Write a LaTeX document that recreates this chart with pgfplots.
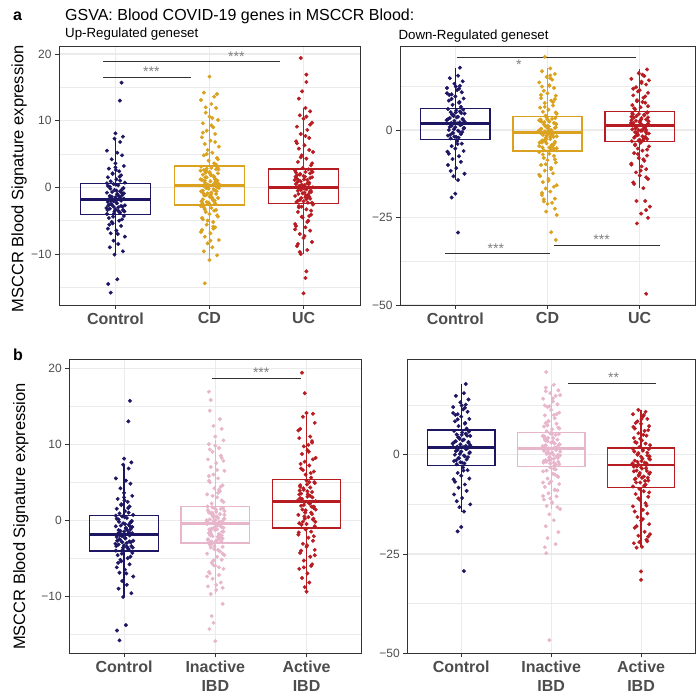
\documentclass[border=0pt]{standalone}
\usepackage{fontspec}
\setmainfont{Liberation Sans}
\usepackage{pgfplots}
\usepackage{pgfplotstable}
\pgfplotsset{compat=1.18}
\usepgfplotslibrary{statistics}

\definecolor{navyc}{HTML}{1D1663}
\definecolor{goldc}{HTML}{DAA21E}
\definecolor{redc}{HTML}{B71C22}
\definecolor{pinkc}{HTML}{E8B6CA}
\definecolor{grey92}{HTML}{EBEBEB}
\definecolor{grey20}{HTML}{333333}
\definecolor{grey30}{HTML}{4D4D4D}
\definecolor{stargrey}{HTML}{7F7F7F}

% jittered points: j = horizontal jitter, y = GSVA score
\pgfplotstableread[row sep=\\]{j y \\
0.065 15.7 \\ 0.047 13.0 \\ 0.00 8.1 \\ 0.08 7.6 \\ -0.01 7.3 \\ 0.05 6.8 \\ -0.09 5.5 \\ 0.02 5.2 \\ 0.07 4.8 \\ -0.04 4.2 \\ 0.00 3.6 \\ 0.09 3.2 \\ -0.07 2.8 \\ 0.04 2.4 \\ -0.03 2.1 \\ 0.06 1.8 \\ -0.08 1.5 \\ 0.01 1.2 \\ -0.05 0.9 \\ 0.10 0.7 \\
-0.02 0.5 \\ 0.03 0.3 \\ -0.06 0.1 \\ 0.08 -0.2 \\ -0.01 -0.4 \\ 0.05 -0.6 \\ -0.09 -0.8 \\ 0.02 -1.0 \\ 0.07 -1.2 \\ -0.04 -1.4 \\ 0.00 -1.5 \\ 0.09 -1.7 \\ -0.07 -1.8 \\ 0.04 -1.8 \\ -0.03 -1.9 \\ 0.06 -2.0 \\ -0.08 -2.2 \\ 0.01 -2.3 \\ -0.05 -2.5 \\ 0.10 -2.7 \\ -0.02 -2.9 \\ 0.03 -3.0 \\ -0.06 -3.2 \\ 0.08 -3.4 \\ -0.01 -3.6 \\ 0.05 -3.8 \\ -0.09 -4.0 \\ 0.02 -1.1 \\ 0.07 -0.3 \\ -0.04 -2.6 \\ 0.00 -3.3 \\
0.01 -0.5 \\ -0.05 -1.6 \\ 0.06 -2.8 \\ -0.08 0.2 \\ 0.04 -3.7 \\ -0.02 -2.1 \\ 0.09 -0.9 \\ -0.06 -1.3 \\ 0.03 -3.5 \\ -0.09 0.6 \\ 0.05 1.0 \\ -0.03 2.0 \\ 0.00 3.0 \\
0.09 -4.3 \\ -0.07 -4.6 \\ 0.04 -5.0 \\ -0.03 -5.4 \\ 0.06 -5.8 \\ -0.08 -6.2 \\ 0.01 -6.5 \\ -0.05 -6.9 \\ 0.10 -7.4 \\ -0.02 -8.0 \\ 0.03 -8.5 \\ -0.06 -9.0 \\ 0.08 -9.6 \\ -0.01 -10.1 \\ 0.07 -4.8 \\ -0.04 -5.2 \\ 0.02 -13.8 \\ -0.077 -14.5 \\ -0.05 -15.8 \\
0.085 -0.1 \\ -0.035 -0.7 \\ 0.015 -2.4 \\ -0.095 -3.1 \\ 0.055 -1.6 \\ -0.015 -3.9 \\ 0.075 -2.9 \\ -0.055 -0.2 \\ 0.035 -1.3 \\ -0.075 -2.7 \\ 0.095 -3.6 \\ 0.005 0.4 \\ -0.045 -2.0 \\ 0.065 -0.8 \\ -0.025 -4.4 \\ 0.045 1.6 \\ -0.065 -5.6 \\ 0.025 -7.0 \\ -0.085 -3.4 \\ 0.005 2.6 \\
}\ctrlup

\pgfplotstableread[row sep=\\]{j y \\
0.00 16.6 \\ -0.06 14.2 \\ 0.08 14.0 \\ 0.05 13.6 \\ -0.09 13.1 \\ 0.02 12.5 \\ 0.07 11.9 \\ -0.04 11.2 \\ 0.00 10.6 \\ 0.09 10.1 \\ -0.07 9.6 \\ 0.04 9.0 \\ -0.03 8.5 \\ 0.06 8.0 \\ -0.08 7.5 \\ 0.01 7.0 \\ -0.05 6.5 \\ 0.10 6.1 \\ -0.02 5.6 \\ 0.03 5.2 \\ -0.06 4.8 \\ 0.08 4.4 \\ -0.01 4.0 \\ 0.05 3.6 \\
-0.09 3.1 \\ 0.02 2.9 \\ 0.07 2.7 \\ -0.04 2.5 \\ 0.00 2.3 \\ 0.09 2.1 \\ -0.07 1.9 \\ 0.04 1.7 \\ -0.03 1.5 \\ 0.06 1.3 \\ -0.08 1.1 \\ 0.01 0.9 \\ -0.05 0.7 \\ 0.10 0.5 \\ -0.02 0.4 \\ 0.03 0.3 \\ -0.06 0.2 \\ 0.08 0.0 \\ -0.01 -0.2 \\ 0.05 -0.4 \\ -0.09 -0.6 \\ 0.02 -0.8 \\ 0.07 -1.0 \\ -0.04 -1.2 \\ 0.00 -1.4 \\ 0.09 -1.6 \\ -0.07 -1.8 \\ 0.04 -2.0 \\ -0.03 -2.2 \\ 0.06 -2.4 \\ -0.08 -2.6 \\ 0.01 2.0 \\ -0.05 1.0 \\ 0.10 -0.1 \\ -0.02 -0.9 \\ 0.03 -1.7 \\ -0.06 2.6 \\ 0.08 0.6 \\ -0.01 -2.3 \\ 0.05 1.6 \\ -0.03 2.8 \\ 0.06 1.2 \\ -0.07 -0.5 \\ 0.02 -1.5 \\ 0.09 0.1 \\ -0.04 2.2 \\
-0.09 -2.8 \\ 0.02 -3.1 \\ 0.07 -3.4 \\ -0.04 -3.7 \\ 0.00 -4.0 \\ 0.09 -4.4 \\ -0.07 -4.8 \\ 0.04 -5.2 \\ -0.03 -5.6 \\ 0.06 -6.0 \\ -0.08 -6.4 \\ 0.01 -6.9 \\ -0.05 -7.4 \\ 0.10 -7.9 \\ -0.02 -8.4 \\ 0.03 -9.0 \\ -0.06 -9.6 \\ 0.08 -10.2 \\ 0.00 -10.9 \\ -0.05 -14.4 \\ 0.05 -3.5 \\ -0.08 -4.6 \\ 0.04 -6.2 \\
0.085 3.0 \\ -0.035 2.4 \\ 0.015 1.8 \\ -0.095 1.2 \\ 0.055 0.6 \\ -0.015 0.0 \\ 0.075 -0.6 \\ -0.055 -1.2 \\ 0.035 -1.8 \\ -0.075 -2.4 \\ 0.095 2.7 \\ 0.005 2.1 \\ -0.045 1.5 \\ 0.065 0.9 \\ -0.025 0.3 \\ 0.045 -0.3 \\ -0.065 -0.9 \\ 0.025 -1.5 \\ -0.085 -2.1 \\ 0.005 -2.6 \\ 0.085 1.0 \\ -0.035 -0.1 \\ 0.015 -1.1 \\ -0.095 2.5 \\ 0.055 -2.0 \\ 0.09 4.2 \\ -0.03 5.0 \\ 0.06 6.8 \\ -0.07 8.2 \\ 0.02 9.3 \\ -0.05 -3.3 \\ 0.08 -4.2 \\ -0.02 -5.0 \\ 0.04 -5.9 \\ -0.09 -6.7 \\ 0.01 -8.0 \\ 0.07 3.4 \\ -0.06 -3.0 \\ 0.03 10.4 \\ -0.04 12.0 \\
}\cdup

\pgfplotstableread[row sep=\\]{j y \\
-0.03 19.4 \\ 0.03 16.9 \\ 0.03 15.8 \\ -0.015 14.4 \\ -0.05 13.3 \\ 0.02 11.9 \\ 0.07 11.4 \\ -0.04 10.8 \\ 0.00 10.3 \\ 0.09 9.7 \\ -0.07 9.1 \\ 0.04 8.6 \\ -0.03 8.0 \\ 0.06 7.4 \\ -0.08 6.9 \\ 0.01 6.3 \\ -0.05 5.8 \\ 0.10 5.3 \\ -0.02 4.8 \\ 0.03 4.3 \\ -0.06 3.8 \\ 0.08 3.3 \\ -0.01 2.9 \\
0.05 2.7 \\ -0.09 2.5 \\ 0.02 2.3 \\ 0.07 2.1 \\ -0.04 1.9 \\ 0.00 1.7 \\ 0.09 1.5 \\ -0.07 1.3 \\ 0.04 1.1 \\ -0.03 0.9 \\ 0.06 0.7 \\ -0.08 0.5 \\ 0.01 0.3 \\ -0.05 0.1 \\ 0.10 0.0 \\ -0.02 -0.1 \\ 0.03 -0.3 \\ -0.06 -0.5 \\ 0.08 -0.7 \\ -0.01 -0.9 \\ 0.05 -1.1 \\ -0.09 -1.3 \\ 0.02 -1.5 \\ 0.07 -1.7 \\ -0.04 -1.9 \\ 0.00 -2.1 \\ 0.09 -2.3 \\ -0.07 1.8 \\ 0.04 0.6 \\ -0.03 -0.4 \\ 0.06 -1.4 \\ -0.08 2.2 \\ 0.01 -0.8 \\ -0.05 1.0 \\ 0.03 -1.8 \\ -0.02 0.4 \\ 0.07 1.4 \\ -0.06 -2.0 \\
0.10 -2.6 \\ -0.02 -2.9 \\ 0.03 -3.3 \\ -0.06 -3.7 \\ 0.08 -4.1 \\ -0.01 -4.5 \\ 0.05 -5.0 \\ -0.09 -5.5 \\ 0.02 -6.0 \\ 0.07 -6.5 \\ -0.04 -7.0 \\ 0.00 -7.6 \\ 0.09 -8.2 \\ -0.07 -8.8 \\ 0.04 -9.4 \\ -0.03 -10.0 \\ 0.03 -12.6 \\ 0.02 -13.6 \\ 0.00 -15.9 \\ -0.05 -3.0 \\ 0.06 -4.3 \\ -0.08 -5.8 \\
0.085 2.6 \\ -0.035 2.0 \\ 0.015 1.6 \\ -0.095 1.1 \\ 0.055 0.5 \\ -0.015 0.0 \\ 0.075 -0.5 \\ -0.055 -1.0 \\ 0.035 -1.5 \\ -0.075 -2.2 \\ 0.095 2.3 \\ 0.005 1.2 \\ -0.045 0.2 \\ 0.065 -0.7 \\ -0.025 -1.6 \\ 0.045 -2.3 \\ -0.065 0.8 \\ 0.025 -1.2 \\ -0.085 1.6 \\ 0.005 -0.2 \\ 0.09 3.6 \\ -0.03 4.5 \\ 0.06 5.6 \\ -0.07 6.6 \\ 0.02 7.7 \\ -0.05 -2.8 \\ 0.08 -3.5 \\ -0.02 -4.4 \\ 0.04 -5.2 \\ -0.09 -6.3 \\ 0.01 -7.3 \\ 0.07 9.4 \\ -0.06 -8.5 \\ 0.03 10.6 \\ -0.04 -9.7 \\
}\ucup

\pgfplotstableread[row sep=\\]{j y \\
0.05 17.8 \\ 0.03 15.5 \\ -0.06 14.8 \\ 0.08 13.9 \\ -0.01 13.2 \\ 0.05 12.6 \\ -0.09 12.0 \\ 0.02 11.4 \\ 0.07 10.8 \\ -0.04 10.2 \\ 0.00 9.6 \\ 0.09 9.0 \\ -0.07 8.4 \\ 0.04 7.8 \\ -0.03 7.2 \\ 0.06 6.6 \\
-0.08 6.0 \\ 0.01 5.6 \\ -0.05 5.1 \\ 0.10 4.7 \\ -0.02 4.2 \\ 0.03 3.8 \\ -0.06 3.4 \\ 0.08 3.0 \\ -0.01 2.6 \\ 0.05 2.2 \\ -0.09 1.9 \\ 0.02 1.9 \\ 0.07 1.6 \\ -0.04 1.2 \\ 0.00 0.8 \\ 0.09 0.4 \\ -0.07 0.0 \\ 0.04 -0.4 \\ -0.03 -0.8 \\ 0.06 -1.2 \\ -0.08 -1.6 \\ 0.01 -2.0 \\ -0.05 -2.4 \\ 0.10 2.4 \\ -0.02 4.0 \\ 0.03 -0.2 \\ -0.06 0.9 \\ 0.08 3.2 \\ -0.01 -1.9 \\ 0.05 5.3 \\ -0.09 10.5 \\ 0.04 11.8 \\ -0.04 8.9 \\
0.02 -3.2 \\ 0.07 -3.9 \\ -0.04 -4.6 \\ 0.00 -5.3 \\ 0.09 -6.0 \\ -0.07 -6.8 \\ 0.04 -7.5 \\ -0.03 -8.3 \\ 0.06 -9.1 \\ -0.08 -10.0 \\ 0.01 -10.9 \\ -0.05 -11.7 \\ 0.10 -12.5 \\ -0.02 -13.2 \\ 0.03 -14.3 \\ 0.00 -18.2 \\ -0.04 -19.3 \\ 0.03 -29.3 \\
0.085 5.8 \\ -0.035 4.4 \\ 0.015 3.6 \\ -0.095 2.8 \\ 0.055 1.4 \\ -0.015 0.2 \\ 0.075 -0.6 \\ -0.055 -1.4 \\ 0.035 -2.2 \\ -0.075 3.2 \\ 0.095 0.6 \\ 0.005 5.0 \\ -0.045 2.0 \\ 0.065 4.8 \\ -0.025 -0.9 \\ 0.045 8.0 \\ -0.065 10.0 \\ 0.025 -4.0 \\ -0.085 -6.2 \\ 0.005 12.4 \\
}\ctrldn

\pgfplotstableread[row sep=\\]{j y \\
-0.03 20.9 \\ 0.03 17.6 \\ -0.06 16.8 \\ 0.08 16.0 \\ -0.01 15.2 \\ 0.05 14.4 \\ -0.09 13.6 \\ 0.02 12.8 \\ 0.07 12.0 \\ -0.04 11.2 \\ 0.00 10.5 \\ 0.09 9.8 \\ -0.07 9.1 \\ 0.04 8.4 \\ -0.03 7.7 \\ 0.06 7.0 \\ -0.08 6.4 \\ 0.01 5.8 \\ -0.05 5.2 \\ 0.10 4.6 \\ -0.02 4.1 \\ 0.03 15.6 \\ -0.06 12.4 \\ 0.08 8.8 \\
-0.01 3.6 \\ 0.05 3.2 \\ -0.09 2.8 \\ 0.02 2.4 \\ 0.07 2.0 \\ -0.04 1.6 \\ 0.00 1.2 \\ 0.09 0.8 \\ -0.07 0.4 \\ 0.04 0.0 \\ -0.03 -0.4 \\ 0.06 -0.7 \\ -0.08 -0.8 \\ 0.01 -1.0 \\ -0.05 -1.4 \\ 0.10 -1.8 \\ -0.02 -2.2 \\ 0.03 -2.6 \\ -0.06 -3.0 \\ 0.08 -3.4 \\ -0.01 -3.8 \\ 0.05 -4.2 \\ -0.09 -4.6 \\ 0.02 -5.0 \\ 0.07 -5.4 \\ -0.04 -5.8 \\ 0.00 3.0 \\ 0.09 1.8 \\ -0.07 0.2 \\ 0.04 -1.2 \\ -0.03 -2.8 \\ 0.06 -4.4 \\ -0.08 2.6 \\ 0.01 -0.2 \\ -0.05 -3.2 \\ 0.10 -5.2 \\ -0.02 1.0 \\ 0.03 -2.0 \\ -0.06 -3.6 \\ 0.08 0.6 \\ -0.01 -1.6 \\ 0.05 -4.8 \\
-0.09 -6.3 \\ 0.02 -6.8 \\ 0.07 -7.4 \\ -0.04 -8.0 \\ 0.00 -8.6 \\ 0.09 -9.3 \\ -0.07 -10.0 \\ 0.04 -10.8 \\ -0.03 -11.6 \\ 0.06 -12.4 \\ -0.08 -13.2 \\ 0.01 -14.0 \\ -0.05 -14.9 \\ 0.10 -15.8 \\ -0.02 -16.7 \\ 0.03 -17.6 \\ -0.06 -18.6 \\ 0.08 -19.6 \\ -0.04 -20.4 \\ 0.00 -21.1 \\ 0.05 -20.8 \\ -0.015 -23.3 \\ 0.08 -22.5 \\ 0.10 -24.3 \\ 0.04 -29.2 \\ 0.09 -31.4 \\
0.085 3.4 \\ -0.035 2.2 \\ 0.015 1.0 \\ -0.095 -0.2 \\ 0.055 -1.4 \\ -0.015 -2.6 \\ 0.075 -3.8 \\ -0.055 -5.0 \\ 0.035 -5.6 \\ -0.075 3.0 \\ 0.095 1.6 \\ 0.005 0.4 \\ -0.045 -0.8 \\ 0.065 -2.0 \\ -0.025 -3.2 \\ 0.045 -4.4 \\ -0.065 2.4 \\ 0.025 -1.0 \\ -0.085 -3.6 \\ 0.005 -0.5 \\ 0.09 5.0 \\ -0.03 6.6 \\ 0.06 8.0 \\ -0.07 10.0 \\ 0.02 12.6 \\ -0.05 -7.0 \\ 0.08 -8.4 \\ -0.02 -9.8 \\ 0.04 -11.2 \\ -0.09 -12.8 \\ 0.01 -14.5 \\ 0.07 -16.2 \\ -0.06 -18.0 \\ 0.03 14.8 \\ -0.04 -19.8 \\
}\cddn

\pgfplotstableread[row sep=\\]{j y \\
0.08 17.3 \\ -0.01 16.2 \\ 0.05 15.4 \\ -0.09 14.6 \\ 0.02 13.8 \\ 0.07 13.0 \\ -0.04 12.2 \\ 0.00 11.4 \\ 0.09 10.6 \\ -0.07 9.9 \\ 0.04 9.2 \\ -0.03 8.5 \\ 0.06 7.8 \\ -0.08 7.1 \\ 0.01 6.5 \\ -0.05 5.9 \\ 0.10 14.2 \\ -0.02 11.0 \\ 0.03 8.0 \\ -0.06 6.2 \\
0.08 5.0 \\ -0.01 4.6 \\ 0.05 4.2 \\ -0.09 3.8 \\ 0.02 3.4 \\ 0.07 3.0 \\ -0.04 2.6 \\ 0.00 2.2 \\ 0.09 1.8 \\ -0.07 1.4 \\ 0.04 1.2 \\ -0.03 1.0 \\ 0.06 0.6 \\ -0.08 0.2 \\ 0.01 -0.2 \\ -0.05 -0.6 \\ 0.10 -1.0 \\ -0.02 -1.4 \\ 0.03 -1.8 \\ -0.06 -2.2 \\ 0.08 -2.6 \\ -0.01 -3.0 \\ 0.05 4.4 \\ -0.09 2.8 \\ 0.02 1.6 \\ 0.07 0.0 \\ -0.04 -1.6 \\ 0.00 -2.8 \\ 0.09 3.6 \\ -0.07 2.0 \\ 0.04 0.4 \\ -0.03 -0.8 \\ 0.06 -2.0 \\ -0.08 4.8 \\
0.01 -3.6 \\ -0.05 -4.1 \\ 0.10 -4.7 \\ -0.02 -5.3 \\ 0.03 -5.9 \\ -0.06 -6.6 \\ 0.08 -7.3 \\ -0.01 -8.0 \\ 0.05 -8.8 \\ -0.09 -9.6 \\ 0.02 -10.4 \\ 0.07 -11.2 \\ -0.04 -12.1 \\ 0.00 -13.0 \\ 0.09 -14.0 \\ -0.07 -15.0 \\ 0.04 -16.6 \\ -0.035 -20.3 \\ 0.06 -20.3 \\ 0.11 -21.9 \\ 0.07 -22.9 \\ 0.016 -23.9 \\ 0.09 -25.1 \\ -0.03 -26.7 \\ 0.07 -46.8 \\
0.085 5.0 \\ -0.035 4.0 \\ 0.015 3.0 \\ -0.095 2.0 \\ 0.055 1.0 \\ -0.015 0.0 \\ 0.075 -1.0 \\ -0.055 -2.0 \\ 0.035 -3.0 \\ -0.075 4.5 \\ 0.095 2.5 \\ 0.005 1.5 \\ -0.045 0.5 \\ 0.065 -0.5 \\ -0.025 -1.5 \\ 0.045 -2.5 \\ -0.065 3.5 \\ 0.025 -0.2 \\ -0.085 -3.2 \\ 0.005 2.6 \\ 0.09 6.8 \\ -0.03 8.2 \\ 0.06 9.6 \\ -0.07 11.8 \\ 0.02 13.4 \\ -0.05 -4.4 \\ 0.08 -5.6 \\ -0.02 -6.9 \\ 0.04 -8.4 \\ -0.09 -9.9 \\ 0.01 -11.6 \\ 0.07 -13.5 \\ -0.06 -15.4 \\ 0.03 15.8 \\
}\ucdn

\pgfplotstableread[row sep=\\]{j y \\
-0.07 16.9 \\ -0.05 15.8 \\ -0.06 14.4 \\ 0.05 13.3 \\ -0.02 12.4 \\ 0.07 12.0 \\ 0.00 11.0 \\ 0.09 10.5 \\ -0.07 10.0 \\ 0.04 9.5 \\ -0.03 9.0 \\ 0.06 8.5 \\ -0.08 8.0 \\ 0.01 7.5 \\ -0.05 7.0 \\ 0.10 6.5 \\ -0.02 6.0 \\ 0.03 5.5 \\ -0.06 5.0 \\ 0.08 4.6 \\ -0.01 4.2 \\ 0.05 3.8 \\ -0.09 3.4 \\ 0.02 3.0 \\ 0.07 2.6 \\ -0.04 2.2 \\ 0.00 9.8 \\ 0.09 7.8 \\ -0.07 5.8 \\ 0.04 4.0 \\
-0.03 1.7 \\ 0.06 1.5 \\ -0.08 1.3 \\ 0.01 1.1 \\ -0.05 0.9 \\ 0.10 0.7 \\ -0.02 0.5 \\ 0.03 0.3 \\ -0.06 0.1 \\ 0.08 -0.1 \\ -0.01 -0.3 \\ 0.05 -0.4 \\ -0.09 -0.5 \\ 0.02 -0.7 \\ 0.07 -0.9 \\ -0.04 -1.1 \\ 0.00 -1.3 \\ 0.09 -1.5 \\ -0.07 -1.7 \\ 0.04 -1.9 \\ -0.03 -2.1 \\ 0.06 -2.3 \\ -0.08 -2.5 \\ 0.01 -2.7 \\ -0.05 -2.9 \\ 0.10 1.2 \\ -0.02 0.4 \\ 0.03 -0.6 \\ -0.06 -1.6 \\ 0.08 -2.4 \\ -0.01 1.6 \\ 0.05 0.8 \\ -0.09 -0.2 \\ 0.02 -1.2 \\ 0.07 -2.0 \\ -0.04 -2.8 \\ 0.00 0.0 \\ 0.09 -1.0 \\ -0.07 1.0 \\ 0.04 -1.8 \\ -0.03 0.6 \\ 0.06 -0.8 \\ -0.08 -2.6 \\ 0.01 1.4 \\ -0.05 -1.4 \\ 0.10 0.2 \\ -0.02 -0.1 \\ 0.03 -2.2 \\
-0.06 -3.2 \\ 0.08 -3.5 \\ -0.01 -3.8 \\ 0.05 -4.1 \\ -0.09 -4.4 \\ 0.02 -4.8 \\ 0.07 -5.2 \\ -0.04 -5.6 \\ 0.00 -6.0 \\ 0.09 -6.4 \\ -0.07 -6.8 \\ 0.04 -7.2 \\ -0.03 -7.7 \\ 0.06 -8.2 \\ -0.08 -8.7 \\ 0.01 -9.2 \\ -0.05 -9.7 \\ 0.08 -11.0 \\ -0.04 -12.6 \\ -0.02 -13.5 \\ -0.065 -14.3 \\ 0.00 -15.9 \\ 0.10 -4.6 \\ -0.02 -5.9 \\ 0.03 -3.9 \\ -0.06 -7.0 \\ 0.08 -8.9 \\ -0.01 -3.4 \\
0.085 1.6 \\ -0.035 1.0 \\ 0.015 0.5 \\ -0.095 0.0 \\ 0.055 -0.5 \\ -0.015 -1.0 \\ 0.075 -1.5 \\ -0.055 -2.0 \\ 0.035 -2.5 \\ -0.075 1.2 \\ 0.095 0.2 \\ 0.005 -0.8 \\ -0.045 -1.8 \\ 0.065 -2.8 \\ -0.025 0.8 \\ 0.045 -0.2 \\ -0.065 -1.2 \\ 0.025 -2.2 \\ -0.085 1.8 \\ 0.005 -2.9 \\ 0.09 2.4 \\ -0.03 3.2 \\ 0.06 4.4 \\ -0.07 5.2 \\ 0.02 6.6 \\ -0.05 -3.6 \\ 0.08 -4.4 \\ -0.02 -5.3 \\ 0.04 -6.2 \\ -0.09 -7.4 \\ 0.01 -8.5 \\ 0.07 8.2 \\ -0.06 9.3 \\ 0.03 3.6 \\ -0.04 -3.1 \\
}\inup

\pgfplotstableread[row sep=\\]{j y \\
-0.05 19.4 \\ -0.02 16.7 \\ 0.00 14.1 \\ 0.07 14.0 \\ -0.04 13.6 \\ 0.09 12.8 \\ -0.07 12.0 \\ 0.04 11.0 \\ -0.08 10.8 \\ 0.06 10.2 \\ -0.03 9.7 \\ 0.01 9.2 \\ -0.05 8.7 \\ 0.10 8.2 \\ -0.02 7.7 \\ 0.03 7.2 \\ -0.06 6.8 \\ 0.08 6.4 \\ -0.01 6.0 \\ 0.05 5.6 \\ -0.09 11.8 \\ 0.02 9.9 \\ 0.07 8.0 \\ -0.04 6.6 \\
0.00 5.2 \\ 0.09 4.9 \\ -0.07 4.6 \\ 0.04 4.3 \\ -0.03 4.0 \\ 0.06 3.7 \\ -0.08 3.4 \\ 0.01 3.1 \\ -0.05 2.8 \\ 0.10 2.5 \\ -0.02 2.4 \\ 0.03 2.2 \\ -0.06 1.9 \\ 0.08 1.6 \\ -0.01 1.3 \\ 0.05 1.0 \\ -0.09 0.7 \\ 0.02 0.4 \\ 0.07 0.1 \\ -0.04 -0.2 \\ 0.00 -0.5 \\ 0.09 -0.8 \\ -0.07 4.4 \\ 0.04 3.2 \\ -0.03 2.0 \\ 0.06 0.8 \\ -0.08 -0.4 \\ 0.01 3.8 \\ -0.05 2.6 \\ 0.10 1.4 \\ -0.02 0.2 \\ 0.03 5.0 \\ -0.06 3.5 \\ 0.08 1.8 \\
-0.01 -1.2 \\ 0.05 -1.5 \\ -0.09 -1.9 \\ 0.02 -2.3 \\ 0.07 -2.7 \\ -0.04 -3.1 \\ 0.00 -3.5 \\ 0.09 -3.9 \\ -0.07 -4.3 \\ 0.04 -4.8 \\ -0.03 -5.3 \\ 0.06 -5.8 \\ -0.08 -6.4 \\ 0.01 -7.0 \\ -0.05 -7.6 \\ 0.03 -8.2 \\ -0.02 -8.8 \\ 0.00 -9.4 \\ 0.08 -2.1 \\ -0.06 -4.0 \\ 0.05 -6.0 \\
0.085 5.0 \\ -0.035 4.2 \\ 0.015 3.4 \\ -0.095 2.6 \\ 0.055 1.8 \\ -0.015 1.0 \\ 0.075 0.2 \\ -0.055 -0.6 \\ 0.035 2.2 \\ -0.075 3.9 \\ 0.095 -0.2 \\ 0.005 4.7 \\ -0.045 1.4 \\ 0.065 3.0 \\ -0.025 0.5 \\ 0.045 6.2 \\ -0.065 7.4 \\ 0.025 9.0 \\ -0.085 -1.6 \\ 0.005 -3.3 \\ 0.09 -4.6 \\ -0.03 -6.2 \\ 0.06 10.4 \\ -0.07 2.9 \\
}\acup

\pgfplotstableread[row sep=\\]{j y \\
-0.055 20.8 \\ 0.03 17.6 \\ -0.06 16.9 \\ 0.08 16.2 \\ -0.01 15.5 \\ 0.05 14.8 \\ -0.09 14.1 \\ 0.02 13.4 \\ 0.07 12.7 \\ -0.04 12.0 \\ 0.00 11.3 \\ 0.09 10.6 \\ -0.07 9.9 \\ 0.04 9.2 \\ -0.03 8.5 \\ 0.06 7.8 \\ -0.08 7.1 \\ 0.01 6.4 \\ -0.05 5.9 \\ 0.10 15.0 \\ -0.02 12.2 \\ 0.03 10.0 \\ -0.06 8.0 \\ 0.08 6.8 \\
-0.01 5.4 \\ 0.05 5.0 \\ -0.09 4.6 \\ 0.02 4.2 \\ 0.07 3.8 \\ -0.04 3.4 \\ 0.00 3.0 \\ 0.09 2.6 \\ -0.07 2.2 \\ 0.04 1.8 \\ -0.03 1.6 \\ 0.06 1.4 \\ -0.08 1.0 \\ 0.01 0.6 \\ -0.05 0.2 \\ 0.10 -0.2 \\ -0.02 -0.6 \\ 0.03 -1.0 \\ -0.06 -1.4 \\ 0.08 -1.8 \\ -0.01 -2.2 \\ 0.05 -2.6 \\ -0.09 4.8 \\ 0.02 3.2 \\ 0.07 2.0 \\ -0.04 0.4 \\ 0.00 -1.2 \\ 0.09 -2.4 \\ -0.07 4.0 \\ 0.04 2.8 \\ -0.03 1.2 \\ 0.06 -0.4 \\ -0.08 -1.6 \\ 0.01 5.2 \\ -0.05 3.6 \\ 0.10 0.8 \\ -0.02 -0.8 \\ 0.03 -2.0 \\ -0.06 2.4 \\ 0.08 0.0 \\
-0.01 -3.2 \\ 0.05 -3.7 \\ -0.09 -4.2 \\ 0.02 -4.8 \\ 0.07 -5.4 \\ -0.04 -6.0 \\ 0.00 -6.7 \\ 0.09 -7.4 \\ -0.07 -8.1 \\ 0.04 -8.9 \\ -0.03 -9.7 \\ 0.06 -10.5 \\ -0.08 -11.3 \\ 0.01 -12.1 \\ -0.05 -12.9 \\ 0.10 -13.7 \\ -0.02 -15.0 \\ 0.03 -16.5 \\ -0.06 -18.0 \\ 0.08 -19.5 \\ -0.04 -21.0 \\ 0.05 -22.5 \\ -0.07 -23.3 \\ -0.055 -24.8 \\ -0.02 -46.7 \\ 0.04 -5.0 \\ -0.09 -7.0 \\ 0.07 -9.0 \\ -0.01 -11.0 \\
0.085 5.2 \\ -0.035 4.2 \\ 0.015 3.2 \\ -0.095 2.2 \\ 0.055 1.2 \\ -0.015 0.2 \\ 0.075 -0.8 \\ -0.055 -1.8 \\ 0.035 -2.8 \\ -0.075 4.6 \\ 0.095 2.6 \\ 0.005 1.6 \\ -0.045 0.6 \\ 0.065 -0.4 \\ -0.025 -1.4 \\ 0.045 -2.4 \\ -0.065 3.6 \\ 0.025 0.0 \\ -0.085 -2.0 \\ 0.005 5.5 \\ 0.09 6.6 \\ -0.03 8.4 \\ 0.06 10.2 \\ -0.07 12.4 \\ 0.02 14.2 \\ -0.05 -4.0 \\ 0.08 -5.6 \\ -0.02 -7.2 \\ 0.04 -8.8 \\ -0.09 -10.4 \\ 0.01 -12.0 \\ 0.07 -13.2 \\ -0.06 16.0 \\ 0.03 -3.5 \\ -0.04 7.4 \\
}\indn

\pgfplotstableread[row sep=\\]{j y \\
-0.03 11.3 \\ 0.05 10.8 \\ -0.09 10.2 \\ 0.02 9.6 \\ 0.07 9.0 \\ -0.04 8.4 \\ 0.00 7.8 \\ 0.09 7.2 \\ -0.07 6.6 \\ 0.04 6.0 \\ -0.03 5.4 \\ 0.06 4.8 \\ -0.08 4.2 \\ 0.01 3.6 \\ -0.05 3.0 \\ 0.10 2.4 \\ -0.02 1.9 \\ 0.03 10.0 \\ -0.06 8.0 \\ 0.08 6.2 \\ -0.01 4.0 \\ 0.05 2.8 \\
-0.09 1.5 \\ 0.02 1.0 \\ 0.07 0.5 \\ -0.04 0.0 \\ 0.00 -0.5 \\ 0.09 -1.0 \\ -0.07 -1.5 \\ 0.04 -2.0 \\ -0.03 -2.5 \\ 0.06 -2.6 \\ -0.08 -3.0 \\ 0.01 -3.5 \\ -0.05 -4.0 \\ 0.10 -4.5 \\ -0.02 -5.0 \\ 0.03 -5.5 \\ -0.06 -6.0 \\ 0.08 -6.5 \\ -0.01 -7.0 \\ 0.05 -7.5 \\ -0.09 -8.0 \\ 0.02 1.2 \\ 0.07 -0.2 \\ -0.04 -1.8 \\ 0.00 -3.2 \\ 0.09 -4.8 \\ -0.07 -6.2 \\ 0.04 -7.8 \\ -0.03 0.4 \\ 0.06 -2.2 \\ -0.08 -4.2 \\ 0.01 -5.8 \\ -0.05 -2.8 \\ 0.10 -1.2 \\
-0.02 -8.6 \\ 0.03 -9.2 \\ -0.06 -9.9 \\ 0.08 -10.6 \\ -0.01 -11.4 \\ 0.05 -12.2 \\ -0.09 -13.0 \\ 0.02 -13.9 \\ 0.07 -14.8 \\ -0.04 -15.7 \\ 0.00 -16.6 \\ 0.09 -17.5 \\ -0.07 -18.4 \\ 0.04 -19.4 \\ -0.03 -20.4 \\ 0.06 -21.4 \\ -0.08 -22.3 \\ 0.01 -23.2 \\ -0.05 -23.4 \\ 0.10 -20.0 \\ 0.07 -21.8 \\ 0.00 -29.4 \\ 0.00 -31.5 \\
0.085 1.4 \\ -0.035 0.2 \\ 0.015 -1.0 \\ -0.095 -2.2 \\ 0.055 -3.4 \\ -0.015 -4.6 \\ 0.075 -5.8 \\ -0.055 -7.0 \\ 0.035 -7.9 \\ -0.075 0.8 \\ 0.095 -0.4 \\ 0.005 -1.6 \\ -0.045 -2.9 \\ 0.065 -4.1 \\ -0.025 -5.3 \\ 0.045 -6.6 \\ -0.065 3.2 \\ 0.025 5.0 \\ -0.085 7.0 \\ 0.005 9.0 \\ 0.09 -9.5 \\ -0.03 -11.0 \\ 0.06 -12.8 \\ -0.07 -14.3 \\ 0.02 -16.2 \\ -0.05 -18.0 \\ 0.08 -20.6 \\ -0.02 -22.0 \\
}\acdn

\pgfplotsset{
  gg/.style={
    scale only axis,
    xmin=0.4, xmax=3.6, xtick={1,2,3},
    grid=both,
    major grid style={color=grey92, line width=1.1pt},
    minor grid style={color=grey92, line width=0.55pt},
    axis line style={grey20, line width=0.9pt},
    tick pos=left, tick align=outside,
    major tick length=4pt, minor tick length=0pt,
    tick style={grey20, line width=0.9pt},
    yticklabel style={font=\fontsize{12}{14}\selectfont, text=grey30},
    xticklabel style={font=\fontsize{16}{19}\selectfont\bfseries, text=grey30, align=center},
  },
  bx/.style={line width=1.3pt, boxplot/draw direction=y, boxplot/box extend=0.75,
    boxplot/whisker extend=0, boxplot/every median/.style={line width=2.8pt}},
  pts/.style={only marks, mark=*, mark size=1.8pt, mark options={draw=none}},
}
\tikzset{
  sig/.style={grey20, line width=1.1pt},
  stars/.style={text=stargrey, font=\fontsize{14}{14}\selectfont},
}

\begin{document}
\begin{tikzpicture}
\useasboundingbox (0pt,0pt) rectangle (696pt,696pt);

% ---------- a: up-regulated ----------
\begin{axis}[gg, at={(59pt,391pt)}, anchor=south west, width=301pt, height=259pt,
  ymin=-17.65, ymax=21.2, ytick={-10,0,10,20}, yticklabels={−10,0,10,20},
  minor ytick={-15,-5,5,15}, xticklabels={Control,CD,UC}]
\addplot[navyc, bx, boxplot prepared={draw position=1, median=-1.8, lower quartile=-4.05, upper quartile=0.6, lower whisker=-10.1, upper whisker=7.3}] coordinates {};
\addplot[goldc, bx, boxplot prepared={draw position=2, median=0.3, lower quartile=-2.65, upper quartile=3.2, lower whisker=-10.9, upper whisker=11.9}] coordinates {};
\addplot[redc, bx, boxplot prepared={draw position=3, median=0.0, lower quartile=-2.4, upper quartile=2.75, lower whisker=-10.0, upper whisker=11.9}] coordinates {};
\addplot[pts, navyc] table[x expr=\thisrow{j}+1, y=y] {\ctrlup};
\addplot[pts, goldc] table[x expr=\thisrow{j}+2, y=y] {\cdup};
\addplot[pts, redc] table[x expr=\thisrow{j}+3, y=y] {\ucup};
\draw[sig] (axis cs:0.863,16.5) -- (axis cs:1.806,16.5);
\draw[sig] (axis cs:0.863,18.9) -- (axis cs:2.752,18.9);
\node[stars] at (axis cs:1.382,17.3) {***};
\node[stars] at (axis cs:2.286,19.6) {***};
\end{axis}

% ---------- a: down-regulated ----------
\begin{axis}[gg, at={(400pt,391pt)}, anchor=south west, width=295pt, height=259pt,
  ymin=-50, ymax=24, ytick={-50,-25,0}, yticklabels={−50,−25,0},
  minor ytick={-37.5,-12.5,12.5}, xticklabels={Control,CD,UC}]
\addplot[navyc, bx, boxplot prepared={draw position=1, median=1.9, lower quartile=-2.67, upper quartile=6.2, lower whisker=-14.3, upper whisker=17.8}] coordinates {};
\addplot[goldc, bx, boxplot prepared={draw position=2, median=-0.76, lower quartile=-6.0, upper quartile=3.8, lower whisker=-21.1, upper whisker=17.6}] coordinates {};
\addplot[redc, bx, boxplot prepared={draw position=3, median=1.24, lower quartile=-3.33, upper quartile=5.24, lower whisker=-16.6, upper whisker=17.3}] coordinates {};
\addplot[pts, navyc] table[x expr=\thisrow{j}+1, y=y] {\ctrldn};
\addplot[pts, goldc] table[x expr=\thisrow{j}+2, y=y] {\cddn};
\addplot[pts, redc] table[x expr=\thisrow{j}+3, y=y] {\ucdn};
\draw[sig] (axis cs:1.013,20.6) -- (axis cs:2.965,20.6);
\draw[sig] (axis cs:0.886,-35.4) -- (axis cs:2.032,-35.4);
\draw[sig] (axis cs:2.068,-32.9) -- (axis cs:3.218,-32.9);
\node[stars] at (axis cs:1.69,18.6) {*};
\node[stars] at (axis cs:1.44,-34.0) {***};
\node[stars] at (axis cs:2.587,-31.4) {***};
\end{axis}

% ---------- b: up-regulated ----------
\begin{axis}[gg, at={(69.3pt,42.7pt)}, anchor=south west, width=292pt, height=294.3pt,
  ymin=-17.5, ymax=21.2, ytick={-10,0,10,20}, yticklabels={−10,0,10,20},
  minor ytick={-15,-5,5,15}, xticklabels={Control,{Inactive\\IBD},{Active\\IBD}}]
\addplot[navyc, bx, boxplot prepared={draw position=1, median=-1.84, lower quartile=-4.04, upper quartile=0.66, lower whisker=-10.1, upper whisker=7.3}] coordinates {};
\addplot[pinkc, bx, boxplot prepared={draw position=2, median=-0.44, lower quartile=-2.98, upper quartile=1.84, lower whisker=-9.7, upper whisker=10.5}] coordinates {};
\addplot[redc, bx, boxplot prepared={draw position=3, median=2.41, lower quartile=-1.01, upper quartile=5.35, lower whisker=-9.4, upper whisker=14.1}] coordinates {};
\addplot[pts, navyc] table[x expr=\thisrow{j}+1, y=y] {\ctrlup};
\addplot[pts, pinkc] table[x expr=\thisrow{j}+2, y=y] {\inup};
\addplot[pts, redc] table[x expr=\thisrow{j}+3, y=y] {\acup};
\draw[sig] (axis cs:1.963,18.6) -- (axis cs:2.94,18.6);
\node[stars] at (axis cs:2.503,19.4) {***};
\end{axis}

% ---------- b: down-regulated ----------
\begin{axis}[gg, at={(407.3pt,42.7pt)}, anchor=south west, width=287.7pt, height=294.3pt,
  ymin=-50, ymax=24.1, ytick={-50,-25,0}, yticklabels={−50,−25,0},
  minor ytick={-37.5,-12.5,12.5}, xticklabels={Control,{Inactive\\IBD},{Active\\IBD}}]
\addplot[navyc, bx, boxplot prepared={draw position=1, median=1.86, lower quartile=-2.77, upper quartile=6.2, lower whisker=-14.3, upper whisker=17.8}] coordinates {};
\addplot[pinkc, bx, boxplot prepared={draw position=2, median=1.6, lower quartile=-2.93, upper quartile=5.64, lower whisker=-13.7, upper whisker=17.6}] coordinates {};
\addplot[redc, bx, boxplot prepared={draw position=3, median=-2.6, lower quartile=-8.2, upper quartile=1.69, lower whisker=-23.2, upper whisker=11.3}] coordinates {};
\addplot[pts, navyc] table[x expr=\thisrow{j}+1, y=y] {\ctrldn};
\addplot[pts, pinkc] table[x expr=\thisrow{j}+2, y=y] {\indn};
\addplot[pts, redc] table[x expr=\thisrow{j}+3, y=y] {\acdn};
\draw[sig] (axis cs:2.185,18.0) -- (axis cs:3.17,18.0);
\node[stars] at (axis cs:2.695,19.3) {**};
\end{axis}

% ---------- titles and labels ----------
\node[font=\fontsize{16}{19}\selectfont\bfseries] at (17.5pt,680pt) {a};
\node[font=\fontsize{16}{19}\selectfont\bfseries] at (18pt,341pt) {b};
\node[anchor=base west, font=\fontsize{16}{19}\selectfont, inner sep=0pt] at (65pt,675.3pt) {GSVA: Blood COVID-19 genes in MSCCR Blood:};
\node[anchor=base west, font=\fontsize{13.3}{16}\selectfont, inner sep=0pt] at (65pt,658.7pt) {Up-Regulated geneset};
\node[anchor=base west, font=\fontsize{13.3}{16}\selectfont, inner sep=0pt] at (398.3pt,656pt) {Down-Regulated geneset};
\node[rotate=90, anchor=base, inner sep=0pt, font=\fontsize{16.5}{19}\selectfont] at (23.3pt,517pt) {MSCCR Blood Signature expression};
\node[rotate=90, anchor=base, inner sep=0pt, font=\fontsize{16.5}{19}\selectfont] at (25pt,179.5pt) {MSCCR Blood Signature expression};
\end{tikzpicture}
\end{document}
